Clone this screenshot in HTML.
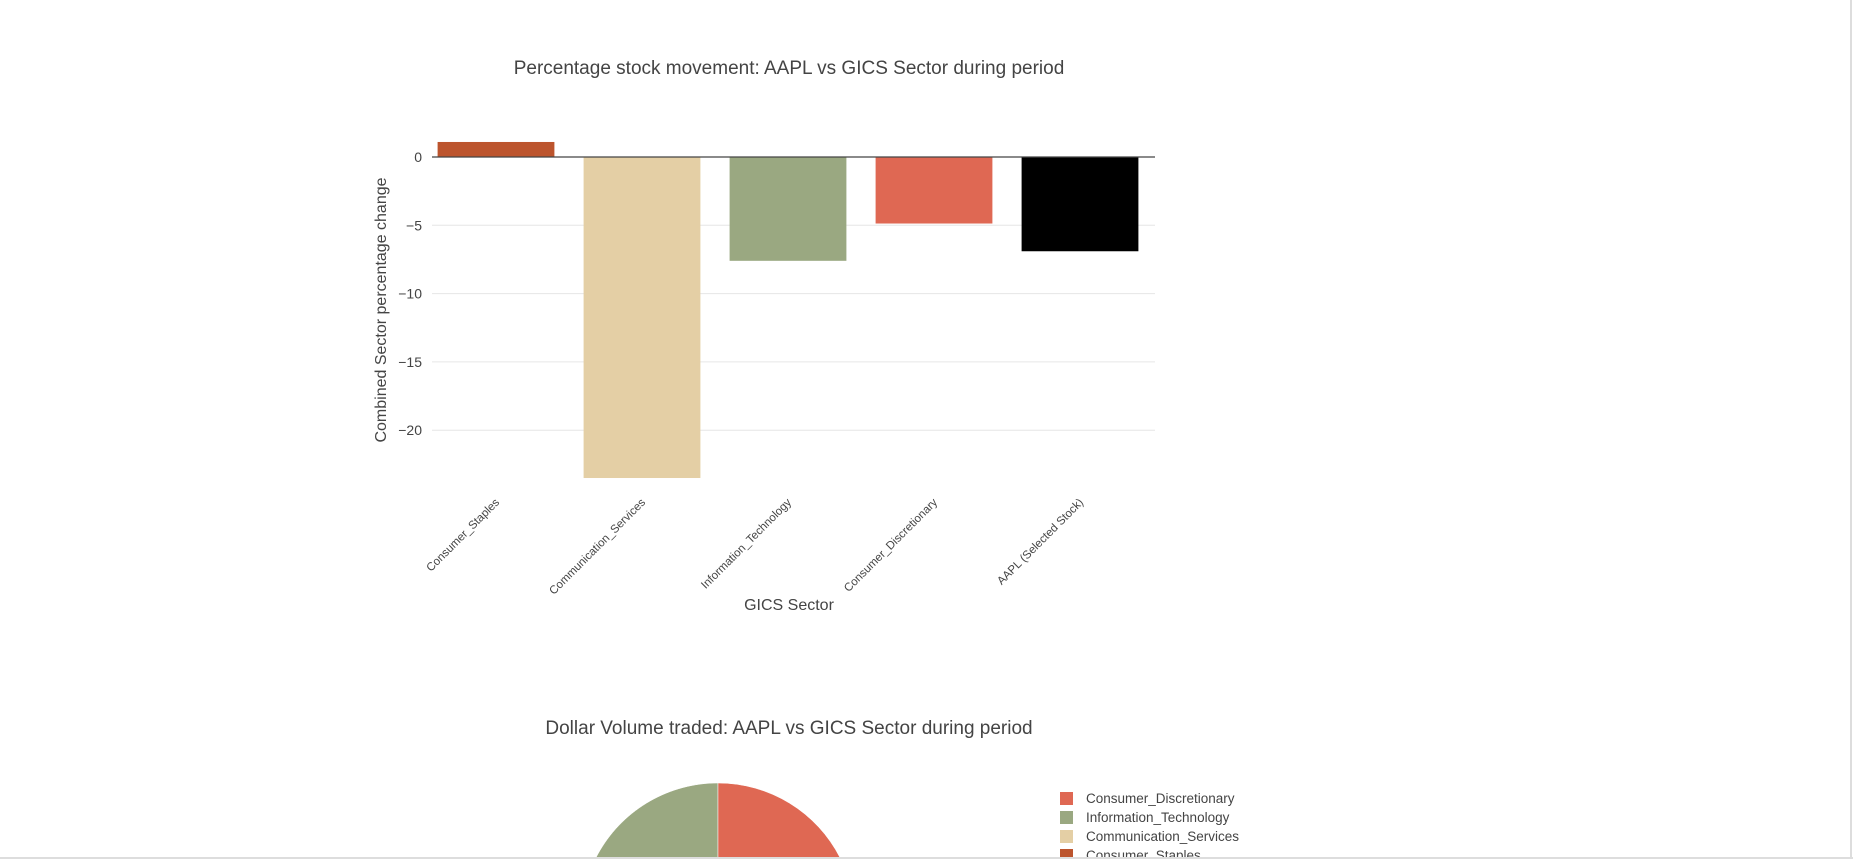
<!DOCTYPE html>
<html><head><meta charset="utf-8"><style>
html,body{margin:0;padding:0;background:#fff;width:1853px;height:859px;overflow:hidden;}
body{position:relative;font-family:"Liberation Sans",sans-serif;}
svg{display:block;}
svg text{font-family:"Liberation Sans",sans-serif;fill:#444;}
</style></head><body>
<svg id="c" width="1853" height="859" viewBox="0 0 1853 859" overflow="hidden">
<rect x="0" y="0" width="1853" height="859" fill="#fff"/>
<text x="789" y="74" font-size="19" text-anchor="middle">Percentage stock movement: AAPL vs GICS Sector during period</text>
<g id="grid"></g>
<g id="bars"></g>
<g id="yt"></g>
<g id="xt"></g>
<text transform="translate(386,310) rotate(-90)" font-size="16" text-anchor="middle">Combined Sector percentage change</text>
<text x="789" y="610" font-size="16" text-anchor="middle">GICS Sector</text>
<text x="789" y="734" font-size="19" text-anchor="middle">Dollar Volume traded: AAPL vs GICS Sector during period</text>
<g id="pie"></g>
<g id="leg"></g>
<line x1="1851" y1="0" x2="1851" y2="859" stroke="#ddd" stroke-width="2"/>
<line x1="0" y1="858" x2="1853" y2="858" stroke="#ddd" stroke-width="2"/>
</svg>
<script>
const categories=["Consumer_Staples","Communication_Services","Information_Technology","Consumer_Discretionary","AAPL (Selected Stock)"];
const values=[1.1,-23.5,-7.6,-4.87,-6.9];
const barColors=["#bc542d","#e4cfa5","#9aa881","#df6853","#000000"];
const yTicks=[0,-5,-10,-15,-20];
const pieLabels=["Consumer_Discretionary","Information_Technology","Communication_Services","Consumer_Staples","AAPL (Selected Stock)"];
const pieValues=[35,33,16,10,6];
const pieColors=["#df6853","#9aa881","#e4cfa5","#bc542d","#000000"];
const pieDrawOrder=[1,2,3,4,0];

const NS="http://www.w3.org/2000/svg";
function mk(tag,attrs,parent){const e=document.createElementNS(NS,tag);for(const k in attrs)e.setAttribute(k,attrs[k]);parent.appendChild(e);return e;}
const plotL=425,plotR=1155,y0=157,pxPer=13.66;
const yScale=v=>y0-v*pxPer;
const band=(plotR-plotL)/categories.length;
const xCenter=i=>plotL+band*(i+0.5);
const grid=document.getElementById('grid'),yt=document.getElementById('yt');
yTicks.forEach(t=>{
  if(t!==0){const l=mk('line',{x1:432,x2:plotR,y1:yScale(t),y2:yScale(t),stroke:'#e6e6e6','stroke-width':1},grid);
  
  }
  const tx=mk('text',{x:422,y:yScale(t)+5,'font-size':14,'text-anchor':'end'},yt);
  tx.textContent=t===0?'0':'\u2212'+Math.abs(t);
  
  
});
const bars=document.getElementById('bars'),xt=document.getElementById('xt');
categories.forEach((c,i)=>{
  const v=values[i],w=band*0.8;
  const r=mk('rect',{x:xCenter(i)-w/2-2,y:Math.min(yScale(v),y0),width:w,height:Math.abs(yScale(v)-y0),fill:barColors[i]},bars);
  
  
  const t=mk('text',{transform:`translate(${xCenter(i)+2},503) rotate(-45)`,'font-size':11.5,'text-anchor':'end'},xt);
  t.textContent=c;
  
  
});
const zl=mk('line',{x1:432,x2:plotR,y1:y0,y2:y0,stroke:'#444','stroke-width':1.2},bars);


// pie: counterclockwise from 12 o'clock
const pie=document.getElementById('pie');
const cx=718,cy=920,R=137;
const total=pieValues.reduce((a,b)=>a+b,0);
let ang=0;
pieDrawOrder.forEach(i=>{
  const v=pieValues[i];
  const a0=ang,a1=ang+v/total*2*Math.PI;ang=a1;
  const p=a=>[cx-R*Math.sin(a),cy-R*Math.cos(a)];
  const [x0,yy0]=p(a0),[x1,yy1]=p(a1);
  const s=mk('path',{d:`M${cx},${cy}L${x0},${yy0}A${R},${R} 0 ${a1-a0>Math.PI?1:0} 0 ${x1},${yy1}Z`,fill:pieColors[i],stroke:'#fff','stroke-width':0.5},pie);
  
  
});
const leg=document.getElementById('leg');
pieLabels.forEach((l,i)=>{
  const y=798+i*19;
  const r=mk('rect',{x:1060,y:y-6,width:13,height:13,fill:pieColors[i]},leg);
  
  
  const t=mk('text',{x:1086,y:y+5,'font-size':13.5},leg);
  t.textContent=l;
  
  
});
</script>
</body></html>
